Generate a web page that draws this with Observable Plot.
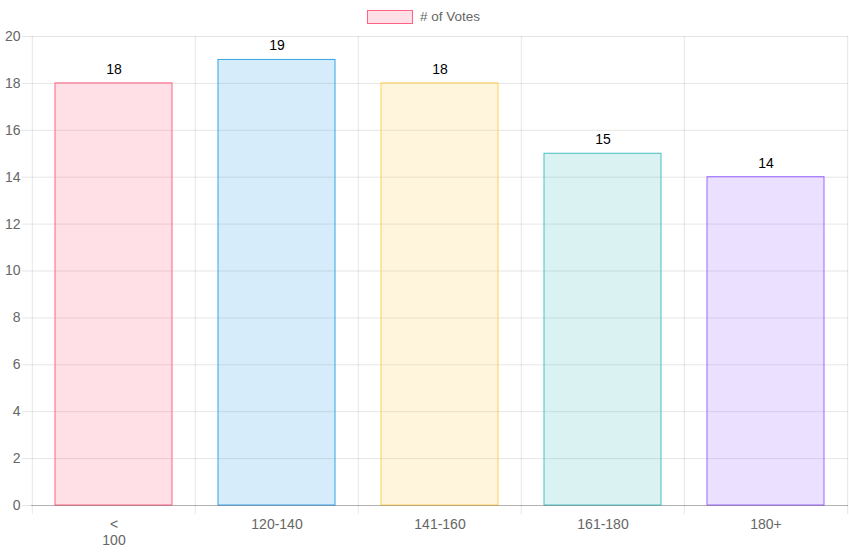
<!DOCTYPE html>
<html>
<head>
<meta charset="utf-8">
<script src="https://cdn.jsdelivr.net/npm/d3@7"></script>
<script src="https://cdn.jsdelivr.net/npm/@observablehq/plot@0.6"></script>
<style>
  html, body { margin: 0; padding: 0; background: #fff; }
  body { font-family: "Liberation Sans", Arial, Helvetica, sans-serif; }
  #legend { position: relative; height: 28px; width: 849px; }
  #legend .box { position: absolute; left: 367px; top: 10px; width: 46px; height: 14px; box-sizing: border-box;
    background: rgba(255,99,132,0.2); border: 1px solid rgb(255,99,132); }
  #legend .lbl { position: absolute; left: 420px; top: 9px; font-size: 13.5px; line-height: 16px; color: #666; }
</style>
</head>
<body>
<div id="legend"><div class="box"></div><div class="lbl"># of Votes</div></div>
<div id="chart"></div>
<script>
const categories = ["< 100", "120-140", "141-160", "161-180", "180+"];
const votes = [18, 19, 18, 15, 14];
const fillColors = ["rgba(255,99,132,0.2)", "rgba(54,162,235,0.2)", "rgba(255,206,86,0.2)", "rgba(75,192,192,0.2)", "rgba(153,102,255,0.2)"];
const strokeColors = ["rgb(255,99,132)", "rgb(54,162,235)", "rgb(255,206,86)", "rgb(75,192,192)", "rgb(153,102,255)"];
const yTicks = [0, 2, 4, 6, 8, 10, 12, 14, 16, 18, 20];

const data = categories.map((c, i) => ({category: c, votes: votes[i], fill: fillColors[i], stroke: strokeColors[i]}));

const W = 849, H = 526, ML = 31, MR = 1, MT = 8, MB = 49;
const step = (W - ML - MR) / categories.length;

const chart = Plot.plot({
  width: W,
  height: H,
  marginLeft: ML,
  marginRight: MR,
  marginTop: MT,
  marginBottom: MB,
  style: {fontFamily: "'Liberation Sans', Arial, sans-serif", fontSize: "14px", color: "#666", background: "#fff"},
  x: {domain: categories, paddingInner: 0.28, paddingOuter: 0.14, label: null},
  y: {domain: [0, 20], label: null},
  marks: [
    Plot.ruleY(yTicks, {y: d => d, stroke: "#000", strokeOpacity: 0.1, insetLeft: -9}),
    Plot.ruleX(categories, {x: d => d, dx: -step / 2, stroke: "#000", strokeOpacity: 0.1, insetBottom: -9}),
    Plot.ruleX(categories.slice(-1), {x: d => d, dx: step / 2, stroke: "#000", strokeOpacity: 0.1, insetBottom: -9}),
    Plot.barY(data, {x: "category", y: "votes", fill: d => d.fill, stroke: d => d.stroke, strokeWidth: 1}),
    Plot.ruleY([0], {stroke: "#000", strokeOpacity: 0.22}),
    Plot.text(data, {x: "category", y: "votes", text: d => String(d.votes), dy: -14, fill: "#000", fontSize: 14}),
    Plot.axisY({ticks: yTicks, tickSize: 0, tickPadding: 11, fontSize: 14, fill: "#666", label: null}),
    Plot.axisX({tickSize: 0, tickPadding: 12, fontSize: 14, fill: "#666", lineHeight: 1.15, tickFormat: d => d.replace(" ", "\n"), label: null})
  ]
});
document.getElementById("chart").appendChild(chart);
</script>
</body>
</html>
